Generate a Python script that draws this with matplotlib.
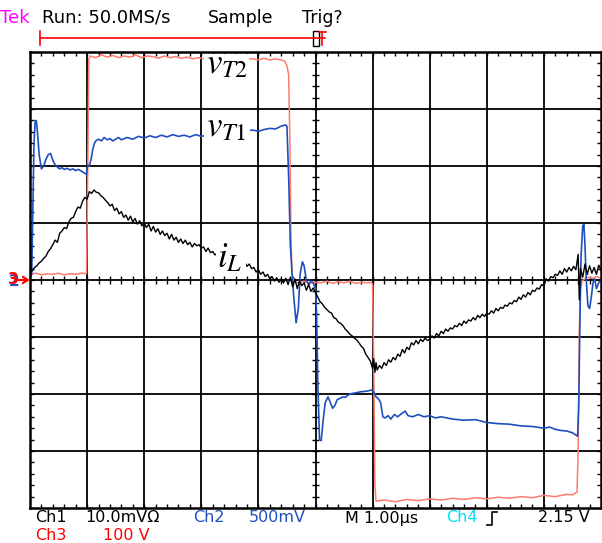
import numpy as np
import matplotlib.pyplot as plt
from matplotlib.lines import Line2D
from matplotlib.patches import Rectangle
from matplotlib.collections import LineCollection

plt.rcParams['mathtext.fontset'] = 'stix'

# scope traces, time in divisions (1.00 us/div), amplitude in divisions
red_t = [0.00, 0.10, 0.20, 0.30, 0.40, 0.50, 0.60, 0.70, 0.80, 0.90, 0.99, 1.01, 1.03, 1.06,
         1.15, 1.25, 1.35, 1.45, 1.55, 1.65, 1.75, 1.85, 1.95, 2.05, 2.15, 2.25, 2.35, 2.45,
         2.55, 2.65, 2.75, 2.85, 2.95, 3.05, 3.3, 3.6, 3.90, 4.00, 4.10, 4.20, 4.30, 4.40,
         4.46, 4.50, 4.53, 4.55, 4.57, 4.59, 4.62, 4.70, 4.80, 4.90, 5.00, 5.10, 5.20, 5.30,
         5.40, 5.50, 5.60, 5.70, 5.80, 5.90, 5.98, 6.00, 6.02, 6.04, 6.06, 6.20, 6.40, 6.60,
         6.80, 7.00, 7.20, 7.40, 7.60, 7.80, 8.00, 8.20, 8.40, 8.60, 8.80, 9.00, 9.20, 9.40,
         9.50, 9.58, 9.60, 9.62, 9.64, 9.67, 9.75, 9.85, 9.93, 10.0]
red_v = [0.10, 0.12, 0.09, 0.11, 0.10, 0.12, 0.09, 0.11, 0.10, 0.12, 0.11, 1.80, 3.88, 3.93,
         3.90, 3.95, 3.91, 3.94, 3.90, 3.93, 3.91, 3.95, 3.90, 3.93, 3.92, 3.89, 3.93, 3.90,
         3.92, 3.89, 3.91, 3.88, 3.90, 3.88, 3.89, 3.87, 3.88, 3.86, 3.89, 3.86, 3.88, 3.86,
         3.84, 3.76, 3.60, 2.50, 0.80, 0.10, -0.03, -0.05, -0.02, -0.06, -0.04, -0.05, -0.02,
         -0.06, -0.03, -0.05, -0.02, -0.06, -0.04, -0.05, -0.04, -0.08, -1.50, -3.60, -3.88,
         -3.86, -3.89, -3.85, -3.87, -3.84, -3.86, -3.83, -3.85, -3.82, -3.84, -3.81, -3.83,
         -3.80, -3.82, -3.78, -3.80, -3.76, -3.77, -3.72, -3.00, -0.90, -0.15, -0.02, 0.05,
         0.03, 0.06, 0.03]

blue_t = [0.00, 0.03, 0.05, 0.07, 0.09, 0.11, 0.13, 0.16, 0.20, 0.24, 0.28, 0.32, 0.36, 0.40,
          0.44, 0.48, 0.52, 0.56, 0.60, 0.65, 0.70, 0.75, 0.80, 0.85, 0.90, 0.95, 0.99, 1.01,
          1.04, 1.07, 1.10, 1.13, 1.16, 1.20, 1.25, 1.30, 1.35, 1.40, 1.45, 1.50, 1.55, 1.60,
          1.70, 1.80, 1.90, 2.00, 2.10, 2.20, 2.30, 2.40, 2.50, 2.60, 2.70, 2.80, 2.90, 3.00,
          3.20, 3.40, 3.60, 3.80, 3.90, 4.00, 4.10, 4.20, 4.30, 4.40, 4.47, 4.50, 4.53, 4.56,
          4.59, 4.62, 4.66, 4.70, 4.73, 4.77, 4.80, 4.84, 4.88, 4.92, 4.96, 5.00, 5.02, 5.04,
          5.07, 5.10, 5.13, 5.17, 5.22, 5.26, 5.30, 5.34, 5.38, 5.42, 5.48, 5.52, 5.60, 5.70,
          5.80, 5.90, 5.98, 6.02, 6.06, 6.10, 6.14, 6.18, 6.22, 6.27, 6.32, 6.38, 6.44, 6.50,
          6.57, 6.62, 6.70, 6.80, 6.90, 7.00, 7.10, 7.20, 7.40, 7.60, 7.80, 8.00, 8.20, 8.40,
          8.60, 8.80, 9.00, 9.10, 9.20, 9.30, 9.40, 9.50, 9.56, 9.59, 9.61, 9.63, 9.65, 9.68,
          9.70, 9.72, 9.74, 9.77, 9.80, 9.83, 9.86, 9.89, 9.92, 9.96, 10.0]
blue_v = [0.05, 0.10, 1.20, 2.40, 2.78, 2.80, 2.60, 2.20, 1.95, 2.00, 2.12, 2.20, 2.22, 2.10,
          2.02, 1.98, 1.95, 1.97, 1.94, 1.96, 1.93, 1.95, 1.92, 1.94, 1.91, 1.88, 1.85, 2.02,
          2.00, 2.12, 2.30, 2.40, 2.45, 2.47, 2.44, 2.50, 2.46, 2.48, 2.44, 2.47, 2.50, 2.46,
          2.50, 2.47, 2.52, 2.49, 2.53, 2.50, 2.54, 2.51, 2.55, 2.52, 2.54, 2.51, 2.55, 2.52,
          2.56, 2.58, 2.60, 2.62, 2.63, 2.61, 2.64, 2.66, 2.65, 2.70, 2.72, 2.70, 1.80, 0.60,
          0.10, -0.30, -0.75, -0.50, 0.10, 0.32, 0.25, 0.00, -0.08, -0.02, -0.05, -0.15, -0.60,
          -1.80, -2.80, -2.82, -2.50, -2.15, -2.05, -2.15, -2.25, -2.20, -2.10, -2.08, -2.05,
          -2.06, -2.00, -1.98, -1.96, -1.95, -1.93, -1.96, -2.05, -2.08, -2.15, -2.40, -2.42,
          -2.38, -2.44, -2.36, -2.40, -2.35, -2.30, -2.38, -2.40, -2.36, -2.40, -2.38, -2.42,
          -2.40, -2.44, -2.46, -2.45, -2.50, -2.52, -2.53, -2.56, -2.57, -2.60, -2.58, -2.62,
          -2.64, -2.65, -2.68, -2.72, -2.74, -2.20, -0.80, 0.40, 0.95, 0.98, 0.60, 0.05, -0.45,
          -0.50, -0.30, -0.05, 0.02, -0.15, -0.05, 0.00]

black_t = [0.00, 0.04, 0.08, 0.12, 0.16, 0.20, 0.24, 0.28, 0.32, 0.36, 0.40, 0.44, 0.48, 0.52,
           0.56, 0.60, 0.64, 0.68, 0.72, 0.76, 0.80, 0.84, 0.88, 0.92, 0.96, 1.00, 1.04, 1.08,
           1.12, 1.16, 1.20, 1.24, 1.28, 1.32, 1.36, 1.40, 1.44, 1.48, 1.52, 1.56, 1.60, 1.64,
           1.68, 1.72, 1.76, 1.80, 1.84, 1.88, 1.92, 1.96, 2.00, 2.04, 2.08, 2.12, 2.16, 2.20,
           2.24, 2.28, 2.32, 2.36, 2.40, 2.44, 2.48, 2.52, 2.56, 2.60, 2.64, 2.68, 2.72, 2.76,
           2.80, 2.84, 2.88, 2.92, 2.96, 3.00, 3.04, 3.08, 3.12, 3.16, 3.20, 3.24, 3.28, 3.32,
           3.36, 3.40, 3.44, 3.48, 3.52, 3.56, 3.60, 3.64, 3.68, 3.72, 3.76, 3.80, 3.84, 3.88,
           3.92, 3.96, 4.00, 4.04, 4.08, 4.12, 4.16, 4.20, 4.24, 4.28, 4.32, 4.36, 4.40, 4.44,
           4.48, 4.52, 4.56, 4.60, 4.64, 4.68, 4.72, 4.76, 4.80, 4.84, 4.88, 4.92, 4.96, 5.00,
           5.04, 5.08, 5.12, 5.16, 5.20, 5.24, 5.28, 5.32, 5.36, 5.40, 5.44, 5.48, 5.52, 5.56,
           5.60, 5.64, 5.68, 5.72, 5.76, 5.80, 5.84, 5.88, 5.92, 5.96, 6.00, 6.02, 6.04, 6.06,
           6.08, 6.12, 6.16, 6.20, 6.24, 6.28, 6.32, 6.36, 6.40, 6.44, 6.48, 6.52, 6.56, 6.60,
           6.64, 6.68, 6.72, 6.76, 6.80, 6.84, 6.88, 6.92, 6.96, 7.00, 7.04, 7.08, 7.12, 7.16,
           7.20, 7.24, 7.28, 7.32, 7.36, 7.40, 7.44, 7.48, 7.52, 7.56, 7.60, 7.64, 7.68, 7.72,
           7.76, 7.80, 7.84, 7.88, 7.92, 7.96, 8.00, 8.04, 8.08, 8.12, 8.16, 8.20, 8.24, 8.28,
           8.32, 8.36, 8.40, 8.44, 8.48, 8.52, 8.56, 8.60, 8.64, 8.68, 8.72, 8.76, 8.80, 8.84,
           8.88, 8.92, 8.96, 9.00, 9.04, 9.08, 9.12, 9.16, 9.20, 9.24, 9.28, 9.32, 9.36, 9.40,
           9.44, 9.48, 9.52, 9.56, 9.60, 9.62, 9.64, 9.68, 9.72, 9.76, 9.80, 9.84, 9.88, 9.92,
           9.96, 10.0]
black_v = [0.17, 0.16, 0.22, 0.25, 0.30, 0.33, 0.38, 0.42, 0.50, 0.55, 0.62, 0.70, 0.66, 0.82,
           0.86, 0.92, 0.90, 1.02, 1.08, 1.10, 1.20, 1.28, 1.26, 1.38, 1.45, 1.42, 1.55, 1.52,
           1.58, 1.54, 1.53, 1.48, 1.45, 1.40, 1.36, 1.30, 1.33, 1.22, 1.26, 1.16, 1.20, 1.10,
           1.14, 1.05, 1.12, 1.02, 1.08, 0.98, 1.04, 0.95, 1.00, 0.92, 0.98, 0.86, 0.94, 0.84,
           0.90, 0.80, 0.86, 0.78, 0.82, 0.72, 0.80, 0.70, 0.75, 0.66, 0.72, 0.64, 0.70, 0.62,
           0.66, 0.58, 0.64, 0.60, 0.62, 0.56, 0.58, 0.50, 0.56, 0.48, 0.50, 0.44, 0.47, 0.42,
           0.44, 0.38, 0.42, 0.36, 0.38, 0.33, 0.36, 0.30, 0.34, 0.28, 0.32, 0.24, 0.28, 0.20,
           0.22, 0.14, 0.18, 0.10, 0.14, 0.06, 0.10, 0.02, 0.06, -0.02, 0.04, -0.04, 0.02, -0.05,
           0.03, -0.08, 0.05, -0.12, 0.02, -0.15, -0.02, -0.10, -0.05, -0.18, -0.08, -0.20, -0.14,
           -0.22, -0.30, -0.38, -0.42, -0.48, -0.52, -0.56, -0.58, -0.66, -0.68, -0.74, -0.76,
           -0.80, -0.86, -0.90, -0.95, -0.98, -1.02, -1.05, -1.10, -1.16, -1.20, -1.30, -1.36,
           -1.42, -1.55, -1.38, -1.62, -1.45, -1.58, -1.50, -1.55, -1.45, -1.50, -1.40, -1.44,
           -1.36, -1.40, -1.30, -1.34, -1.22, -1.28, -1.18, -1.22, -1.10, -1.14, -1.06, -1.12,
           -1.04, -1.08, -1.02, -1.06, -1.04, -0.98, -1.02, -0.94, -0.98, -0.90, -0.94, -0.86,
           -0.90, -0.84, -0.86, -0.80, -0.82, -0.76, -0.80, -0.72, -0.76, -0.70, -0.72, -0.66,
           -0.70, -0.62, -0.66, -0.60, -0.64, -0.58, -0.60, -0.54, -0.58, -0.50, -0.54, -0.48,
           -0.50, -0.44, -0.46, -0.40, -0.42, -0.36, -0.38, -0.30, -0.34, -0.26, -0.30, -0.22,
           -0.26, -0.18, -0.20, -0.14, -0.16, -0.08, -0.10, 0.02, -0.02, 0.06, 0.04, 0.10, 0.08,
           0.16, 0.10, 0.20, 0.14, 0.22, 0.16, 0.24, 0.18, 0.45, -0.35, 0.20, 0.05, 0.28, 0.10,
           0.25, 0.12, 0.22, 0.10, 0.26, 0.18]

# trace labels: text, anchor (t, v), white patch (t0, v0, t1, v1)
labels = [(r'$v_{T2}$', 3.08, 3.62, (3.05, 3.40, 3.84, 3.97)),
          (r'$v_{T1}$', 3.08, 2.52, (3.05, 2.28, 3.86, 2.86)),
          (r'$i_{L}$', 3.27, 0.22, (3.25, 0.09, 3.78, 0.65))]

W, H = 602, 543


def fx(x):
    return x / W


def fy(y):
    return 1 - y / H


fig = plt.figure(figsize=(W / 100, H / 100), dpi=100)
ax = fig.add_axes([30 / W, 1 - 508 / H, 571 / W, 456 / H])
ax.set_xlim(0, 10)
ax.set_ylim(-4, 4)
ax.set_xticks([])
ax.set_yticks([])
for s in ax.spines.values():
    s.set_linewidth(1.8)
    s.set_color('black')
    s.set_zorder(7)

# graticule
for k in range(1, 10):
    ax.axvline(k, color='black', lw=1.3, zorder=2)
for k in range(-3, 4):
    ax.axhline(k, color='black', lw=1.3, zorder=2)

segs = []
for t in np.arange(0.2, 10, 0.2):
    segs.append([(t, -0.07), (t, 0.07)])
    segs.append([(t, 4), (t, 3.93)])
    segs.append([(t, -4), (t, -3.93)])
for v in np.arange(-3.8, 4, 0.2):
    segs.append([(4.93, v), (5.07, v)])
    segs.append([(0, v), (0.07, v)])
    segs.append([(10, v), (9.93, v)])
ax.add_collection(LineCollection(segs, colors='black', linewidths=1.0, zorder=2))

# traces
ax.plot(red_t, red_v, color='#ff7a6b', lw=1.1, zorder=3, clip_on=False)
ax.plot(blue_t, blue_v, color='#1f4fbf', lw=1.2, zorder=3, clip_on=False)
ax.plot(black_t, black_v, color='black', lw=1.0, zorder=4, clip_on=False)

for txt, t, v, (t0, v0, t1, v1) in labels:
    ax.add_patch(Rectangle((t0, v0), t1 - t0, v1 - v0, facecolor='white',
                           edgecolor='none', zorder=5))
    ax.text(t, v, txt, fontsize=25, va='baseline', zorder=5.5)

# header
hf = 'DejaVu Sans'
fig.text(fx(0), fy(18), 'Tek', color='#ff00ff', fontsize=13, va='center', family=hf)
fig.text(fx(42), fy(18), 'Run: 50.0MS/s', color='black', fontsize=13, va='center', family=hf)
fig.text(fx(208), fy(18), 'Sample', color='black', fontsize=12.5, va='center', family=hf)
fig.text(fx(302), fy(18), 'Trig?', color='black', fontsize=12.5, va='center', family=hf)

fig.add_artist(Line2D([fx(40), fx(325)], [fy(37.5), fy(37.5)], color='red', lw=1.2))
fig.add_artist(Line2D([fx(40), fx(40)], [fy(31), fy(45)], color='red', lw=1.2))
fig.add_artist(Rectangle((fx(313), fy(46)), 6 / W, 15 / H, facecolor='none',
                         edgecolor='black', lw=1.0))
fig.add_artist(Line2D([fx(322), fx(322)], [fy(32), fy(45)], color='red', lw=1.2))
fig.add_artist(Line2D([fx(319), fx(326)], [fy(32), fy(32)], color='red', lw=1.2))

# channel markers at left
fig.text(fx(9), fy(281), '2', color='#1f4fbf', fontsize=11, weight='bold', va='center')
fig.text(fx(8), fy(280), '3', color='red', fontsize=11, weight='bold', va='center')
fig.add_artist(Line2D([fx(17), fx(26)], [fy(280), fy(280)], color='red', lw=1.5))
fig.add_artist(Line2D([fx(23), fx(28), fx(23)], [fy(277), fy(280), fy(283)], color='red', lw=1.5))

# footer
fs = 11.5
fig.text(fx(35), fy(518), 'Ch1', color='black', fontsize=fs, va='center', family=hf)
fig.text(fx(85), fy(518), '10.0mVΩ', color='black', fontsize=fs, va='center', family=hf)
fig.text(fx(193), fy(518), 'Ch2', color='#1f4fbf', fontsize=fs, va='center', family=hf)
fig.text(fx(249), fy(518), '500mV', color='#1f4fbf', fontsize=fs, va='center', family=hf)
fig.text(fx(345), fy(518), 'M 1.00µs', color='black', fontsize=fs, va='center', family=hf)
fig.text(fx(446), fy(518), 'Ch4', color='#00e0f0', fontsize=fs, va='center', family=hf)
fig.add_artist(Line2D([fx(487), fx(492), fx(492), fx(497)],
                      [fy(525), fy(525), fy(512), fy(512)], color='black', lw=1.2))
fig.text(fx(538), fy(518), '2.15 V', color='black', fontsize=fs, va='center', family=hf)
fig.text(fx(35), fy(535), 'Ch3', color='red', fontsize=fs, va='center', family=hf)
fig.text(fx(103), fy(535), '100 V', color='red', fontsize=fs, va='center', family=hf)

fig.savefig('out.png', dpi=100)
